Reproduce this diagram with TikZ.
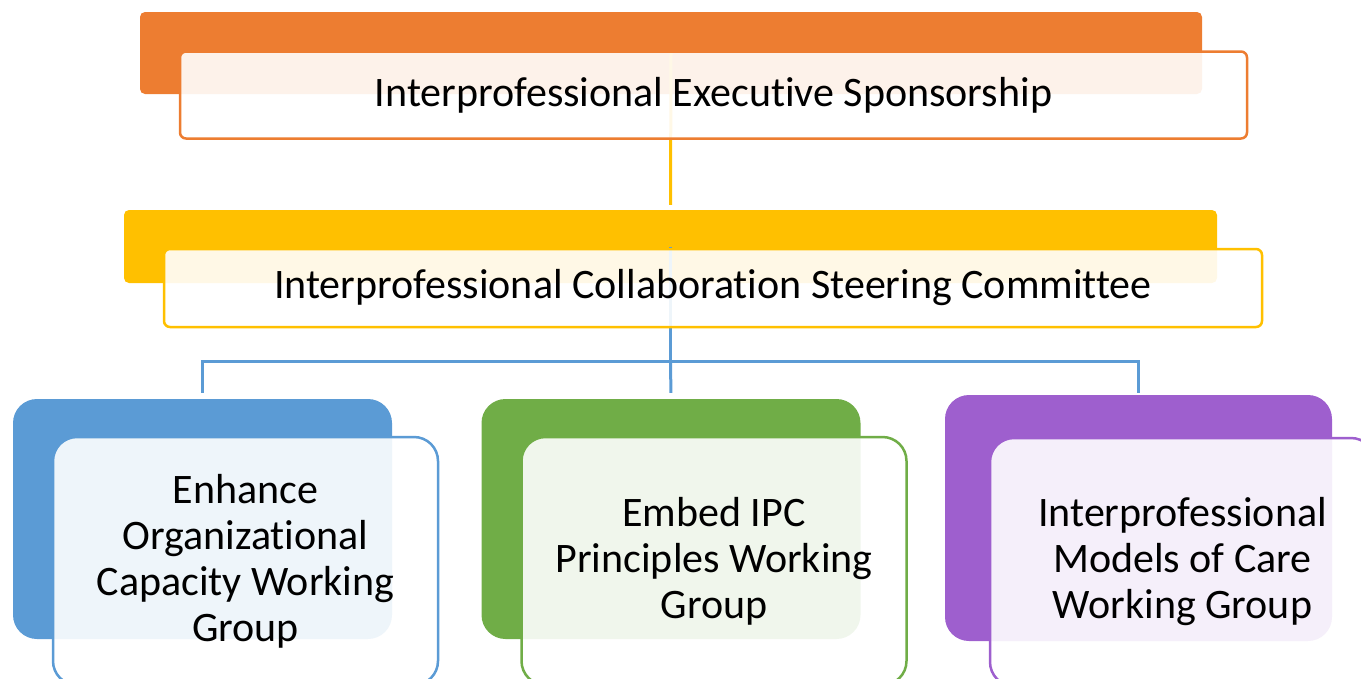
\documentclass[tikz,border=0pt]{standalone}
\usepackage{fontspec}
\setmainfont{Carlito}[Ligatures=NoCommon]
\usetikzlibrary{positioning}

\definecolor{execorange}{HTML}{ED7D31}
\definecolor{steeryellow}{HTML}{FFC000}
\definecolor{capblue}{HTML}{5B9BD5}
\definecolor{ipcgreen}{HTML}{70AD47}
\definecolor{modelpurple}{HTML}{9E5FCE}

\tikzset{
  backbox/.style={fill=#1, draw=none, rounded corners=5pt, inner sep=0pt},
  frontbox/.style={draw=#1, line width=2.5pt, fill=white, fill opacity=.9,
    text opacity=1, rounded corners=6pt, inner sep=0pt, align=center,
    font=\fontsize{42}{46}\selectfont},
  groupback/.style={backbox=#1, rounded corners=24pt, minimum width=379, minimum height=240},
  groupfront/.style={frontbox=#1, rounded corners=24pt, minimum width=385, minimum height=248},
  link/.style={draw=#1, line width=3pt}
}

\begin{document}
\begin{tikzpicture}[x=1pt, y=-1pt]
\clip (0,0) rectangle (1361,678);

% back layers
\node[backbox=execorange, minimum width=1062, minimum height=82] (execback) at (671,53) {};
\node[backbox=steeryellow, minimum width=1093, minimum height=73] (steerback) at (670.5,246.5) {};
\node[groupback=capblue] (capback) at (202.5,519) {};
\node[groupback=ipcgreen] (ipcback) at (671,519) {};
\node[groupback=modelpurple, minimum width=387, minimum height=246] (modelback) at (1138.5,518) {};

% connectors
\coordinate (bus) at (0,361);
\draw[link=steeryellow, shorten >=5pt] (execback.center) -- (steerback.north);
\draw[link=capblue] (steerback.center) -- (steerback.center |- bus);
\draw[link=capblue, shorten >=6pt] (steerback.center |- bus) -| (capback.north);
\draw[link=capblue, shorten >=6pt] (steerback.center |- bus) -- (ipcback.north);
\draw[link=capblue, shorten >=2pt] (steerback.center |- bus) -| (modelback.north);

% front layers
\node[frontbox=execorange, minimum width=1067, minimum height=87] (execfront) at (713.5,95) {Interprofessional Executive Sponsorship};
\node[frontbox=steeryellow, minimum width=1098, minimum height=78] (steerfront) at (713,288) {Interprofessional Collaboration Steering Committee};
\node[groupfront=capblue] (capfront) at (245.5,561) {Enhance\\Organizational\\Capacity Working\\Group};
\node[groupfront=ipcgreen] (ipcfront) at (714,561) {Embed IPC\\Principles Working\\Group};
\node[groupfront=modelpurple] (modelfront) at (1182.5,562) {Interprofessional\\Models of Care\\Working Group};
\end{tikzpicture}
\end{document}
